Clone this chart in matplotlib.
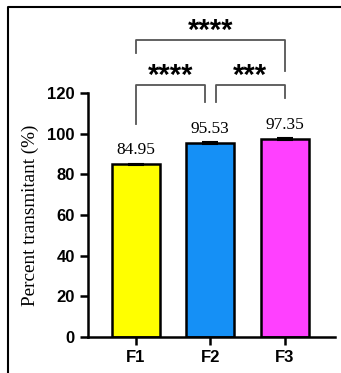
import matplotlib.pyplot as plt
from matplotlib.lines import Line2D

groups = ["F1", "F2", "F3"]
values = [84.95, 95.53, 97.35]
errors = [0.4, 0.4, 0.4]
colors = ["#FFFF00", "#1590F6", "#FF40FF"]
labels = ["84.95", "95.53", "97.35"]

# significance brackets: (x left, x right, top, left leg end, right leg end, stars)
brackets = [
    (0, 0.93, 124, 105, 115.5, "****"),
    (1.07, 2, 124, 115.5, 117.5, "***"),
    (0, 2, 146, 139.5, 131, "****"),
]

fig = plt.figure(figsize=(3.41, 3.73), dpi=100)
ax = fig.add_axes([0.258, 0.0965, 0.724, 0.654])

x = range(len(groups))
ax.bar(x, values, width=0.64, color=colors, edgecolor="black", linewidth=1.8,
       yerr=errors, capsize=6, error_kw=dict(elinewidth=1.5, capthick=1.5))

for xi, v, t in zip(x, values, labels):
    ax.text(xi, v + 3, t, ha="center", va="bottom", family="Liberation Serif", fontsize=12.5)

for x0, x1, top, l0, l1, s in brackets:
    ax.plot([x0, x0, x1, x1], [l0, top, top, l1], color="#555555", lw=1.3, clip_on=False)
    ax.text((x0 + x1) / 2, top + 0.5, s, ha="center", va="baseline", fontsize=21,
            fontweight="bold", family="Liberation Sans")

ax.set_xlim(-0.64, 2.67)
ax.set_ylim(0, 120)
ax.set_yticks(range(0, 121, 20))
ax.set_xticks(list(x))
ax.set_xticklabels(groups)
for lab in ax.get_xticklabels() + ax.get_yticklabels():
    lab.set_fontweight("bold")
    lab.set_family("Liberation Sans")
    lab.set_fontsize(12)
ax.tick_params(width=1.8, length=6, color="black")
for sp in ["top", "right"]:
    ax.spines[sp].set_visible(False)
for sp in ["left", "bottom"]:
    ax.spines[sp].set_linewidth(1.8)
ax.set_ylabel("Percent transmitant (%)", family="Liberation Serif", fontsize=13.8, labelpad=6)

# outer frame
fig.add_artist(Line2D([8 / 341, 8 / 341, 1.0], [0, 1 - 7 / 373, 1 - 7 / 373],
                      transform=fig.transFigure, color="black", lw=1.5))

fig.savefig("out.png", dpi=100)
